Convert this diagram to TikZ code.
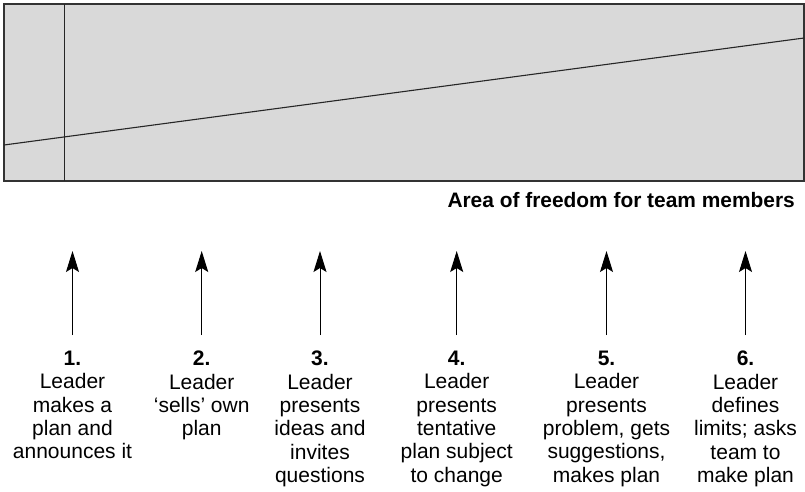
\documentclass[tikz,border=0pt]{standalone}
\usepackage{fontspec}
\setmainfont{Liberation Sans}
\usetikzlibrary{arrows.meta}
\begin{document}
\begin{tikzpicture}[x=1pt,y=-1pt,
  frame/.style={draw=black!80,line width=1.1pt,fill=black!15},
  divider/.style={draw=black!85,line width=1.1pt},
  label/.style={align=center,anchor=north,inner sep=0pt,font=\fontsize{21}{23.3}\selectfont},
  caption/.style={anchor=base east,inner sep=0pt,font=\fontsize{20.9}{24}\selectfont\bfseries},
  uparrow/.style={line width=1pt,-{Stealth[length=21pt,width=13pt,inset=4pt]}}]
\useasboundingbox (0,0) rectangle (805,491);
\draw[frame] (4,4) rectangle (804,181);
\coordinate (vt) at (64.5,4);
\coordinate (vb) at (64.5,181);
\draw[divider] (vt) -- (vb);
\coordinate (dl) at (4,145);
\coordinate (dr) at (804,38);
\draw[divider] (dl) -- (dr);
\node[caption] (cap) at (795,207) {Area of freedom for team members};
\foreach \i/\x/\t in {
  1/72.5/{Leader\\makes a\\plan and\\announces it},
  2/201.7/{Leader\\`sells' own\\plan},
  3/320/{Leader\\presents\\ideas and\\invites\\questions},
  4/456.7/{Leader\\presents\\tentative\\plan subject\\to change},
  5/606.5/{Leader\\presents\\problem, gets\\suggestions,\\makes plan},
  6/745.5/{Leader\\defines\\limits; asks\\team to\\make plan}}{
  \node[label] (l\i) at (\x,351) {\textbf{\i.}\\\t};
  \coordinate (a\i) at (\x,335);
  \coordinate (t\i) at (\x,251);
  \draw[uparrow] (a\i) -- (t\i);
}
\end{tikzpicture}
\end{document}
